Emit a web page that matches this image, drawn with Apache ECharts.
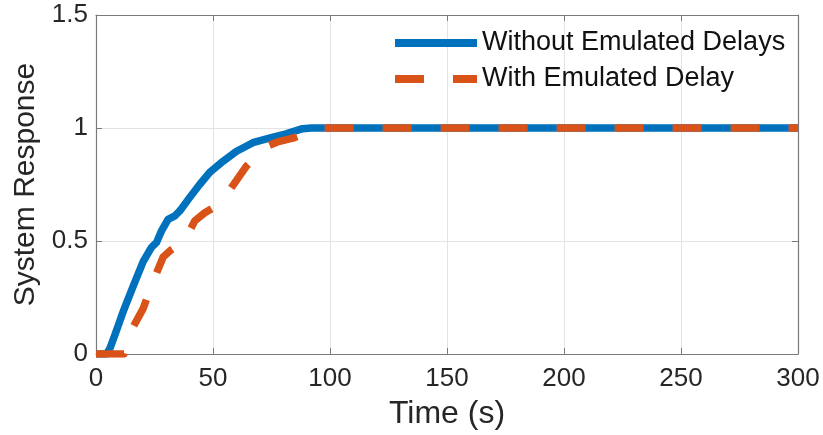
<!DOCTYPE html>
<html><head><meta charset="utf-8">
<script src="https://cdn.jsdelivr.net/npm/echarts@6/dist/echarts.min.js"></script>
<style>html,body{margin:0;padding:0;background:#fff}#c{width:823px;height:435px}</style>
</head><body><div id="c"></div>
<script>
const seriesNames = ['Without Emulated Delays', 'With Emulated Delay'];
const timeA = [0, 4.5, 6, 8.1, 11.6, 15.9, 20.2, 23.7, 25.9, 28, 30.8, 33.7, 35.8, 40, 44.3, 48.6, 54.2, 59.9, 67, 74.1, 81.2, 88.3, 92, 100, 150, 200, 250, 300];
const respA = [0, 0, 0.026, 0.085, 0.187, 0.30, 0.41, 0.472, 0.494, 0.545, 0.596, 0.611, 0.633, 0.692, 0.75, 0.804, 0.852, 0.896, 0.935, 0.955, 0.974, 0.997, 1, 1, 1, 1, 1, 1];
const timeB = [0, 12, 13.5, 15.2, 20.2, 23.7, 28.7, 32, 35, 37.9, 42.2, 46.5, 51.4, 57.8, 64.2, 72.7, 78, 84.1, 95.4, 100, 150, 200, 250, 300];
const respB = [0, 0, 0.05, 0.107, 0.202, 0.304, 0.429, 0.46, 0.48, 0.501, 0.589, 0.625, 0.655, 0.735, 0.83, 0.918, 0.94, 0.955, 1.0, 1, 1, 1, 1, 1];
const xTicks = [0, 50, 100, 150, 200, 250, 300];
const yTicks = [0, 0.5, 1, 1.5];
const xTitle = 'Time (s)';
const yTitle = 'System Response';

const FONT = "'Liberation Sans', Arial, sans-serif";
const AX = '#7a7a7a';
const TXT = '#262626';
const pairs = (xs, ys) => xs.map((x, i) => [x, ys[i]]);

const chart = echarts.init(document.getElementById('c'), null, {renderer: 'canvas'});
const baseX = {
  type: 'value', min: xTicks[0], max: xTicks[xTicks.length - 1], interval: xTicks[1] - xTicks[0],
  axisLine: {show: true, onZero: false, lineStyle: {color: AX, width: 1.2}},
  axisTick: {show: true, inside: true, length: 6, lineStyle: {color: AX}},
  splitLine: {show: false}
};
const baseY = {
  type: 'value', min: yTicks[0], max: yTicks[yTicks.length - 1], interval: yTicks[1] - yTicks[0],
  axisLine: {show: true, onZero: false, lineStyle: {color: AX, width: 1.2}},
  axisTick: {show: true, inside: true, length: 6, lineStyle: {color: AX}},
  splitLine: {show: false}
};
chart.setOption({
  animation: false,
  backgroundColor: '#ffffff',
  grid: {left: 96, right: 25, top: 15, bottom: 79, containLabel: false},
  legend: {
    orient: 'vertical', left: 391, top: 29, padding: 0, itemGap: 8,
    itemWidth: 82, itemHeight: 12,
    itemStyle: {opacity: 0},
    lineStyle: {width: 8},
    textStyle: {fontFamily: FONT, fontSize: 27, color: '#111', lineHeight: 28},
    data: seriesNames
  },
  xAxis: [
    Object.assign({}, baseX, {
      position: 'bottom',
      name: xTitle, nameLocation: 'middle', nameGap: 44,
      nameTextStyle: {fontFamily: FONT, fontSize: 32, color: TXT},
      axisLabel: {show: true, margin: 12, fontFamily: FONT, fontSize: 26, color: TXT,
        formatter: v => String(v)},
      splitLine: {show: true, lineStyle: {color: '#e3e3e3', width: 1}}
    }),
    Object.assign({}, baseX, {position: 'top', axisLabel: {show: false}})
  ],
  yAxis: [
    Object.assign({}, baseY, {
      position: 'left',
      name: yTitle, nameLocation: 'middle', nameGap: 48,
      nameTextStyle: {fontFamily: FONT, fontSize: 30, color: TXT},
      axisLabel: {show: true, margin: 8, fontFamily: FONT, fontSize: 26, color: TXT,
        formatter: v => String(v)},
      splitLine: {show: true, lineStyle: {color: '#e3e3e3', width: 1}}
    }),
    Object.assign({}, baseY, {position: 'right', axisLabel: {show: false}})
  ],
  series: [
    {
      name: seriesNames[0], type: 'line', xAxisIndex: 0, yAxisIndex: 0,
      data: pairs(timeA, respA), showSymbol: false, symbol: 'none', smooth: false,
      lineStyle: {color: '#0072BD', width: 7.5, cap: 'butt', join: 'round'},
      itemStyle: {color: '#0072BD'}, z: 2
    },
    {
      name: seriesNames[1], type: 'line', xAxisIndex: 0, yAxisIndex: 0,
      data: pairs(timeB, respB), showSymbol: false, symbol: 'none', smooth: false,
      lineStyle: {color: '#D95319', width: 7.5, type: [29, 29], cap: 'butt', join: 'round'},
      itemStyle: {color: '#D95319'}, z: 3
    }
  ]
});
</script></body></html>
